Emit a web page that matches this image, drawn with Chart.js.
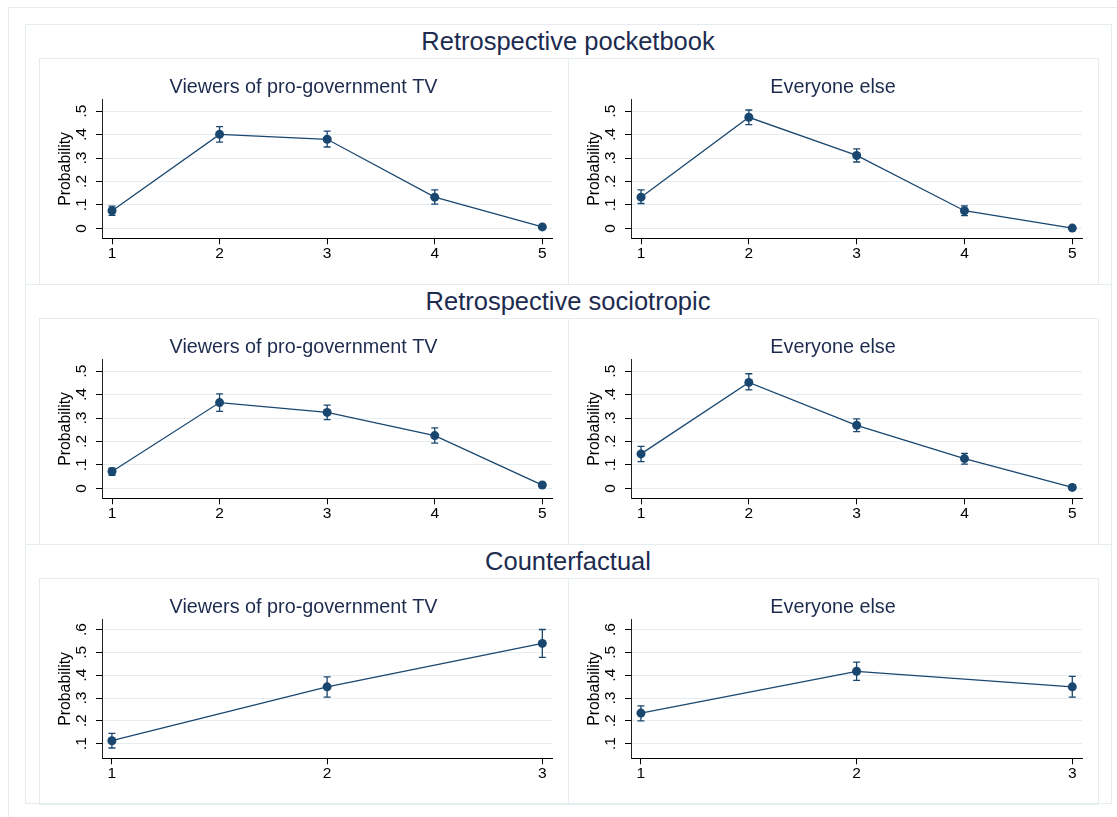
<!DOCTYPE html>
<html lang="en">
<head>
<meta charset="UTF-8">
<title>Predicted probabilities by TV viewing</title>
<script src="https://cdn.jsdelivr.net/npm/chart.js"></script>
<style>
  body { margin: 0; background: #fff; }
  #page { position: relative; width: 1117px; height: 817px; overflow: hidden; background: #fff;
          font-family: 'Liberation Sans', Arial, Helvetica, sans-serif; }
  .box { position: absolute; border: 1px solid #e4ecef; box-sizing: border-box; }
  .rowTitle { position: absolute; left: 25px; width: 1086px; text-align: center; font-size: 25.5px;
              line-height: 30px; color: #1d2b4f; }
  canvas { position: absolute; }
</style>
</head>
<body>
<div id="page"></div>

<script>
// ---- data ----
const rowTitles = ['Retrospective pocketbook', 'Retrospective sociotropic', 'Counterfactual'];
const groupTitles = ['Viewers of pro-government TV', 'Everyone else'];

const xFive = [1, 2, 3, 4, 5];
const xThree = [1, 2, 3];
const yTicksLow = [0, 0.1, 0.2, 0.3, 0.4, 0.5];
const yTicksHigh = [0.1, 0.2, 0.3, 0.4, 0.5, 0.6];

// retrospective pocketbook
const pocketTvEst = [0.075, 0.401, 0.380, 0.133, 0.006];
const pocketTvLo  = [0.055, 0.368, 0.347, 0.103, 0.003];
const pocketTvHi  = [0.095, 0.434, 0.415, 0.164, 0.009];
const pocketElseEst = [0.133, 0.474, 0.311, 0.075, 0.001];
const pocketElseLo  = [0.106, 0.443, 0.283, 0.054, 0.000];
const pocketElseHi  = [0.164, 0.505, 0.339, 0.096, 0.003];

// retrospective sociotropic
const socioTvEst = [0.072, 0.366, 0.324, 0.225, 0.014];
const socioTvLo  = [0.055, 0.328, 0.293, 0.193, 0.009];
const socioTvHi  = [0.086, 0.403, 0.355, 0.258, 0.019];
const socioElseEst = [0.147, 0.452, 0.269, 0.127, 0.004];
const socioElseLo  = [0.114, 0.420, 0.242, 0.103, 0.001];
const socioElseHi  = [0.179, 0.489, 0.296, 0.149, 0.007];

// counterfactual
const counterTvEst = [0.113, 0.349, 0.539];
const counterTvLo  = [0.081, 0.304, 0.478];
const counterTvHi  = [0.145, 0.393, 0.600];
const counterElseEst = [0.234, 0.417, 0.349];
const counterElseLo  = [0.200, 0.377, 0.304];
const counterElseHi  = [0.266, 0.457, 0.395];

const FONT = "'Liberation Sans', Arial, Helvetica, sans-serif";
const NAVY = '#1a476f';

const rows = [
  { top: 24, x: xFive, yTicks: yTicksLow, xMin: 0.907, xMax: 5.09, yMin: -0.0426, yMax: 0.55,
    panels: [[pocketTvEst, pocketTvLo, pocketTvHi], [pocketElseEst, pocketElseLo, pocketElseHi]] },
  { top: 284, x: xFive, yTicks: yTicksLow, xMin: 0.907, xMax: 5.09, yMin: -0.0426, yMax: 0.55,
    panels: [[socioTvEst, socioTvLo, socioTvHi], [socioElseEst, socioElseLo, socioElseHi]] },
  { top: 544, x: xThree, yTicks: yTicksHigh, xMin: 0.954, xMax: 3.045, yMin: 0.036, yMax: 0.644,
    panels: [[counterTvEst, counterTvLo, counterTvHi], [counterElseEst, counterElseLo, counterElseHi]] }
];

// confidence intervals with caps
const errorBars = {
  id: 'errorBars',
  beforeDatasetsDraw(chart) {
    const { ctx, scales: { x, y } } = chart;
    chart.data.datasets.forEach(ds => {
      ctx.save();
      ctx.strokeStyle = ds.borderColor;
      ctx.lineWidth = 1.3;
      ds.data.forEach((p, i) => {
        const px = x.getPixelForValue(p.x);
        const y1 = y.getPixelForValue(ds.lo[i]);
        const y2 = y.getPixelForValue(ds.hi[i]);
        ctx.beginPath();
        ctx.moveTo(px, y1); ctx.lineTo(px, y2);
        ctx.moveTo(px - 3.5, y1); ctx.lineTo(px + 3.5, y1);
        ctx.moveTo(px - 3.5, y2); ctx.lineTo(px + 3.5, y2);
        ctx.stroke();
      });
      ctx.restore();
    });
  }
};

// stata style y labels, turned on their side
const sideLabels = {
  id: 'sideLabels',
  afterDraw(chart) {
    const s = chart.scales.y, ctx = chart.ctx;
    ctx.save();
    ctx.fillStyle = '#000';
    ctx.font = '15.5px ' + FONT;
    ctx.textAlign = 'center';
    ctx.textBaseline = 'middle';
    s.ticks.forEach(t => {
      ctx.save();
      ctx.translate(chart.chartArea.left - 20.3, s.getPixelForValue(t.value));
      ctx.rotate(-Math.PI / 2);
      ctx.fillText(t.label, 0, 0);
      ctx.restore();
    });
    ctx.restore();
  }
};

const fmtProb = v => v === 0 ? '0' : v.toFixed(1).replace(/^0/, '');

const page = document.getElementById('page');
function addBox(left, top, width, height) {
  const d = document.createElement('div');
  d.className = 'box';
  Object.assign(d.style, { left: left + 'px', top: top + 'px', width: width + 'px', height: height + 'px' });
  page.appendChild(d);
}

addBox(8, 7, 1300, 1000);

rows.forEach((row, r) => {
  addBox(25, row.top, 1087, r === 2 ? 260 : 261);
  const t = document.createElement('div');
  t.className = 'rowTitle';
  t.style.top = (row.top + 1.5) + 'px';
  t.textContent = rowTitles[r];
  page.appendChild(t);

  [39, 568].forEach((left, c) => {
    const w = c === 0 ? 530 : 531;
    addBox(left, row.top + 34, w, 227);

    const cv = document.createElement('canvas');
    cv.width = w - 1;
    cv.height = 226;
    cv.style.left = left + 'px';
    cv.style.top = (row.top + 34) + 'px';
    page.appendChild(cv);

    const [est, lo, hi] = row.panels[c];
    new Chart(cv.getContext('2d'), {
      type: 'line',
      data: {
        datasets: [{
          data: row.x.map((v, i) => ({ x: v, y: est[i] })),
          lo: lo,
          hi: hi,
          borderColor: NAVY,
          backgroundColor: NAVY,
          borderWidth: 1.3,
          pointRadius: 4.5,
          pointBorderWidth: 0,
          pointBackgroundColor: NAVY,
          tension: 0,
          clip: false
        }]
      },
      options: {
        responsive: false,
        animation: false,
        events: [],
        layout: { padding: { left: 16, right: 16, top: 0, bottom: 0 } },
        plugins: {
          legend: { display: false },
          tooltip: { enabled: false },
          title: {
            display: true,
            text: groupTitles[c],
            color: '#1d2b4f',
            font: { family: FONT, size: 19.8, weight: 'normal' },
            padding: { top: 17.2, bottom: 0.5 }
          }
        },
        scales: {
          x: {
            type: 'linear',
            min: row.xMin,
            max: row.xMax,
            afterBuildTicks: s => { s.ticks = row.x.map(v => ({ value: v })); },
            afterFit: s => { s.height = 45.7; },
            grid: { drawOnChartArea: false, tickLength: 6, tickColor: '#000' },
            border: { color: '#000', width: 1 },
            ticks: { padding: 0.5, color: '#000', maxRotation: 0, font: { family: FONT, size: 15.5 },
                     callback: v => String(v) }
          },
          y: {
            type: 'linear',
            min: row.yMin,
            max: row.yMax,
            afterBuildTicks: s => { s.ticks = row.yTicks.map(v => ({ value: v })); },
            afterFit: s => { s.width = 47; },
            grid: { color: '#e6edf1', lineWidth: 1, tickLength: 6, tickColor: '#000' },
            border: { color: '#222', width: 1 },
            ticks: { display: false, callback: fmtProb },
            title: { display: true, text: 'Probability', color: '#000',
                     font: { family: FONT, size: 15.8 }, padding: { top: 1.5, bottom: 0 } }
          }
        }
      },
      plugins: [errorBars, sideLabels]
    });
  });
});
</script>
</body>
</html>
